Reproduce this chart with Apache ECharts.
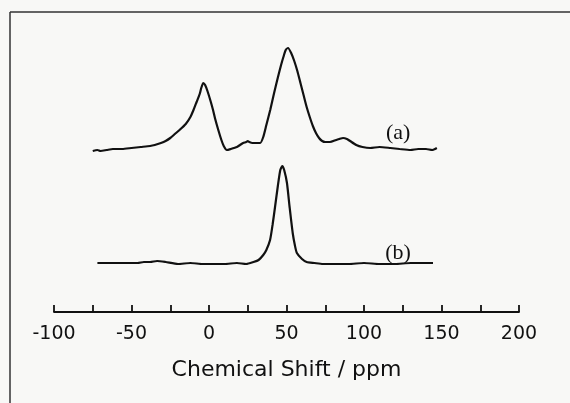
<!DOCTYPE html>
<html><head><meta charset="utf-8">
<script src="https://cdn.jsdelivr.net/npm/echarts@6/dist/echarts.min.js"></script>
<style>html,body{margin:0;padding:0;background:#f8f8f6}#c{width:570px;height:403px}</style>
</head><body><div id="c"></div>
<script>
// x axis (chemical shift, ppm)
const xMin = -100, xMax = 200, xStep = 25;
const xLabelValues = [-100, -50, 0, 50, 100, 150, 200];

// Spectrum (a): chemical shift (ppm) and intensity (arbitrary units)
const aShift = [-75, -72, -70, -66, -62, -56, -50, -44, -38, -35, -31, -28, -25, -22, -19, -15, -12, -10, -8, -6, -5, -3.7, -2.5, -1, 1, 2.6, 4, 6, 8, 9.5, 11.5, 14, 18, 20, 22, 24, 25, 26, 28, 31, 33, 35, 37, 39.5, 42, 44.5, 46.5, 48, 49.5, 51, 53, 55, 57, 59, 61, 63, 65, 67, 69, 71, 73, 75, 78, 82, 84, 86.5, 89, 91, 95, 99, 104, 110, 117, 123, 130, 135, 140, 144, 147];
const aInt   = [-1, 0, -1, 0, 1, 1, 2, 3, 4, 5, 7, 9, 12, 16, 20, 26, 33, 40, 48, 56, 62, 67, 65, 59, 49, 40, 31, 20, 10, 4, 0, 1, 3, 5, 7, 8, 9, 8, 7, 7, 7, 13, 25, 40, 57, 73, 85, 93, 100, 102, 97, 89, 79, 67, 55, 43, 33, 24, 17, 12, 9, 8, 8, 10, 11, 12, 11, 9, 5, 3, 2, 3, 2, 1, 0, 1, 1, 0, 2];

// Spectrum (b)
const bShift = [-72, -66, -60, -53, -46, -42, -38, -33.5, -28, -20, -12, -4, 4, 10, 18, 24, 28.7, 32, 35, 37, 39.4, 41, 42.6, 44.5, 46, 47.3, 48.5, 50.3, 52, 54, 55.5, 56.7, 60, 63, 68, 73.5, 80, 90, 100, 110, 120, 130, 138, 144.5];
const bInt   = [1, 1, 1, 1, 1, 2, 2, 3, 2, 0, 1, 0, 0, 0, 1, 0, 2, 4, 9, 14, 24, 39, 57, 79, 94, 98, 94, 81, 57, 31, 18, 11, 5, 2, 1, 0, 0, 0, 1, 0, 0, 1, 1, 1];

// Spectrum tags
const tagA = {text: '(a)', shift: 122, intensity: 17};
const tagB = {text: '(b)', shift: 122, intensity: 11};

const zip = (xs, ys) => xs.map((x, i) => [x, ys[i]]);
const ink = '#111';

const chart = echarts.init(document.getElementById('c'), null, {renderer: 'canvas'});
chart.setOption({
  backgroundColor: '#f8f8f6',
  animation: false,
  grid: {left: 54, right: 51, top: 30, bottom: 91},
  xAxis: {
    type: 'value', min: xMin, max: xMax, interval: xStep,
    axisLine: {show: true, onZero: false, lineStyle: {color: ink, width: 1.8}},
    axisTick: {show: true, inside: true, length: 7, lineStyle: {color: ink, width: 1.8}},
    splitLine: {show: false},
    axisLabel: {
      margin: 13, color: ink, fontFamily: 'DejaVu Sans', fontSize: 19,
      formatter: v => xLabelValues.includes(v) ? String(v) : ''
    },
    name: 'Chemical Shift / ppm', nameLocation: 'middle', nameGap: 47,
    nameTextStyle: {color: ink, fontFamily: 'DejaVu Sans', fontSize: 22}
  },
  yAxis: [
    {type: 'value', min: -162, max: 120, show: false},
    {type: 'value', min: -48, max: 234, show: false}
  ],
  graphic: [
    {type: 'line', shape: {x1: 10, y1: 12, x2: 10, y2: 403}, style: {stroke: '#333', lineWidth: 1.5}},
    {type: 'line', shape: {x1: 10, y1: 12, x2: 570, y2: 12}, style: {stroke: '#333', lineWidth: 1.5}}
  ],
  series: [
    {
      name: 'a', type: 'line', yAxisIndex: 0, data: zip(aShift, aInt),
      showSymbol: false, smooth: 0.2, lineStyle: {color: ink, width: 2.2},
      markPoint: {
        symbol: 'circle', symbolSize: 0,
        label: {show: true, formatter: tagA.text, color: ink, fontFamily: 'Liberation Serif', fontSize: 22},
        data: [{coord: [tagA.shift, tagA.intensity]}]
      }
    },
    {
      name: 'b', type: 'line', yAxisIndex: 1, data: zip(bShift, bInt),
      showSymbol: false, smooth: 0.2, lineStyle: {color: ink, width: 2.2},
      markPoint: {
        symbol: 'circle', symbolSize: 0,
        label: {show: true, formatter: tagB.text, color: ink, fontFamily: 'Liberation Serif', fontSize: 22},
        data: [{coord: [tagB.shift, tagB.intensity]}]
      }
    }
  ]
});
</script>
</body></html>
